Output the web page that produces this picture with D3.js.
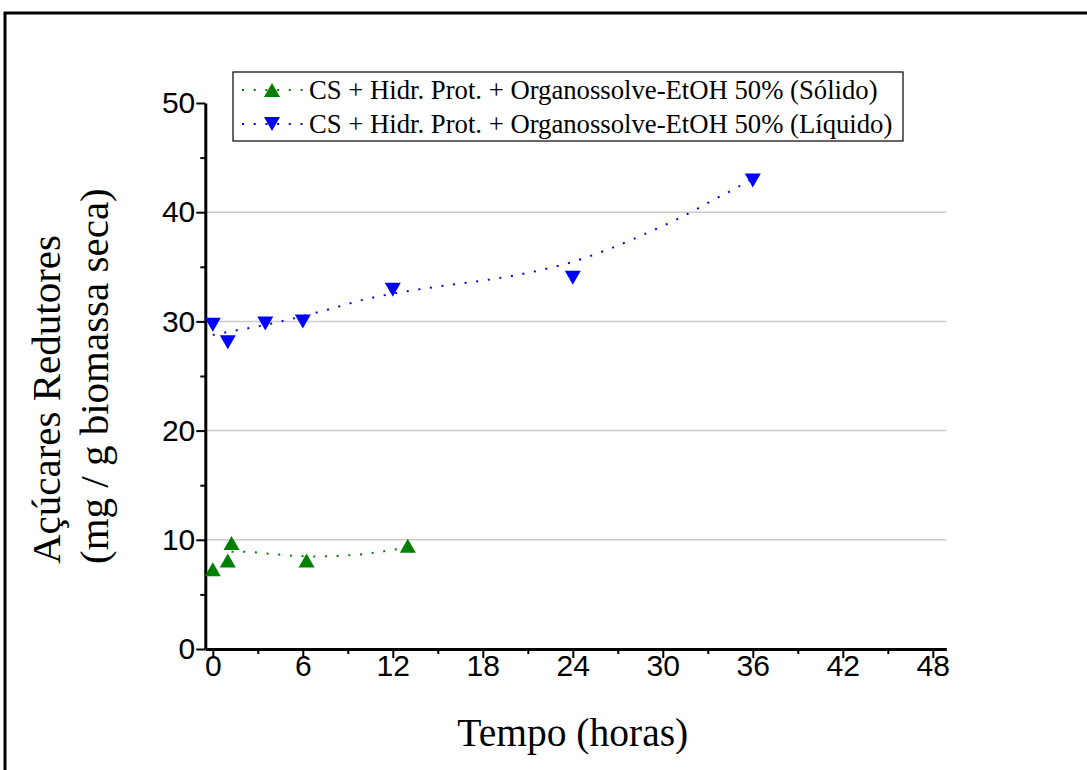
<!DOCTYPE html>
<html>
<head>
<meta charset="utf-8">
<script src="https://cdn.jsdelivr.net/npm/d3@7"></script>
<style>
  html, body { margin: 0; padding: 0; background: #fff; }
  svg { display: block; }
</style>
</head>
<body>
<svg id="chart" width="1087" height="770"></svg>
<script>
// Reducing sugars released over time — solid and liquid fractions
const solidHours = [0, 1, 1.25, 6.25, 13];
const solidValues = [7.3, 8.1, 9.7, 8.1, 9.45];
const liquidHours = [0, 1, 3.5, 6, 12, 24, 36];
const liquidValues = [29.7, 28.1, 29.8, 30.0, 32.9, 34.0, 42.9];

// Dotted trend curves (hours, value)
const solidFitHours = [1.25, 2.3, 3.8, 5.4, 6.9, 8.5, 10.0, 11.6, 12.4, 13];
const solidFitValues = [8.9, 8.9, 8.72, 8.54, 8.48, 8.54, 8.69, 8.99, 9.18, 9.35];
const liquidFitHours = [0, 0.8, 3.15, 5.5, 7.8, 10.15, 12.5, 15.55, 18.66, 21.77, 24.1, 26.4, 28.75, 31.1, 33.4, 35.0, 36];
const liquidFitValues = [28.75, 28.98, 29.58, 30.31, 31.13, 32.02, 32.66, 33.3, 33.88, 34.67, 35.5, 36.62, 37.97, 39.46, 41.14, 42.3, 43.1];

const xMajorTicks = [0, 6, 12, 18, 24, 30, 36, 42, 48];
const xMinorTicks = [3, 9, 15, 21, 27, 33, 39, 45];
const yMajorTicks = [0, 10, 20, 30, 40, 50];
const yMinorTicks = [5, 15, 25, 35, 45];
const gridValues = [10, 20, 30, 40];

const seriesNames = [
  "CS + Hidr. Prot. + Organossolve-EtOH 50% (Sólido)",
  "CS + Hidr. Prot. + Organossolve-EtOH 50% (Líquido)"
];
const seriesColors = ["#008000", "#0000ff"];
const xTitle = "Tempo (horas)";
const yTitleLines = ["Açúcares Redutores", "(mg / g biomassa seca)"];

const svg = d3.select("#chart");
const serif = "'Liberation Serif', 'Times New Roman', serif";
const sans = "'Liberation Sans', Arial, sans-serif";

// outer frame
svg.append("rect")
  .attr("x", 5).attr("y", 13)
  .attr("width", 1200).attr("height", 900)
  .attr("fill", "none").attr("stroke", "#000").attr("stroke-width", 3);

const x = d3.scaleLinear().domain([-0.5, 48.9]).range([205.3, 946.3]);
const y = d3.scaleLinear().domain([0, 50]).range([649, 103]);

// gridlines
svg.append("g").selectAll("line").data(gridValues).join("line")
  .attr("x1", x.range()[0]).attr("x2", x.range()[1])
  .attr("y1", d => y(d)).attr("y2", d => y(d))
  .attr("stroke", "#cccccc").attr("stroke-width", 1.5);

// x axis
const gx = svg.append("g").attr("transform", `translate(0,${y(0)})`);
gx.call(d3.axisBottom(x).tickValues(xMinorTicks).tickSize(5).tickFormat(""));
gx.call(g => g.selectAll(".domain").remove());
const gxMaj = svg.append("g").attr("transform", `translate(0,${y(0)})`);
gxMaj.call(d3.axisBottom(x).tickValues(xMajorTicks).tickSize(9).tickSizeOuter(0));
gxMaj.selectAll("text").attr("y", 6).attr("font-family", sans).attr("font-size", 30).attr("fill", "#000");
[gx, gxMaj].forEach(g => g.selectAll(".tick line").attr("stroke", "#000").attr("stroke-width", 2));
gxMaj.select(".domain").attr("stroke", "#000").attr("stroke-width", 3);

// y axis
const gy = svg.append("g").attr("transform", `translate(${x.range()[0]},0)`);
gy.call(d3.axisLeft(y).tickValues(yMinorTicks).tickSize(5).tickFormat(""));
gy.call(g => g.selectAll(".domain").remove());
const gyMaj = svg.append("g").attr("transform", `translate(${x.range()[0]},0)`);
gyMaj.call(d3.axisLeft(y).tickValues(yMajorTicks).tickSize(9).tickSizeOuter(0).tickPadding(1));
gyMaj.selectAll("text").attr("font-family", sans).attr("font-size", 30).attr("fill", "#000");
[gy, gyMaj].forEach(g => g.selectAll(".tick line").attr("stroke", "#000").attr("stroke-width", 2));
gyMaj.select(".domain").attr("stroke", "#000").attr("stroke-width", 3);

// axis titles
svg.append("text")
  .attr("x", (x(0) + x(48)) / 2).attr("y", 746)
  .attr("text-anchor", "middle")
  .attr("font-family", serif).attr("font-size", 39.5)
  .text(xTitle);

const yTitle = svg.append("text")
  .attr("transform", `translate(60,564) rotate(-90)`)
  .attr("text-anchor", "start")
  .attr("font-family", serif).attr("font-size", 41);
yTitle.selectAll("tspan").data(yTitleLines).join("tspan")
  .attr("x", 0).attr("dy", (d, i) => i === 0 ? 0 : 48)
  .text(d => d);

// dotted trend curves
const line = d3.line().x(d => x(d[0])).y(d => y(d[1])).curve(d3.curveMonotoneX);
const solidFit = solidFitHours.map((h, i) => [h, solidFitValues[i]]);
const liquidFit = liquidFitHours.map((h, i) => [h, liquidFitValues[i]]);
[[solidFit, seriesColors[0]], [liquidFit, seriesColors[1]]].forEach(([pts, c]) => {
  svg.append("path").attr("d", line(pts))
    .attr("fill", "none").attr("stroke", c)
    .attr("stroke-width", 2).attr("stroke-dasharray", "2 9.7");
});

// triangle markers
const triUp = "M0,-7L8,7L-8,7Z";
const triDown = "M0,7L8,-7L-8,-7Z";
svg.append("g").selectAll("path").data(solidHours.map((h, i) => [h, solidValues[i]])).join("path")
  .attr("d", triUp).attr("fill", seriesColors[0])
  .attr("transform", d => `translate(${x(d[0])},${y(d[1])})`);
svg.append("g").selectAll("path").data(liquidHours.map((h, i) => [h, liquidValues[i]])).join("path")
  .attr("d", triDown).attr("fill", seriesColors[1])
  .attr("transform", d => `translate(${x(d[0])},${y(d[1])})`);

// legend
const legend = svg.append("g");
legend.append("rect")
  .attr("x", 233).attr("y", 72).attr("width", 670).attr("height", 69)
  .attr("fill", "#fff").attr("stroke", "#000").attr("stroke-width", 1.2);
const rows = [{ name: seriesNames[0], color: seriesColors[0], sym: triUp, cy: 90 },
              { name: seriesNames[1], color: seriesColors[1], sym: triDown, cy: 124 }];
rows.forEach(r => {
  legend.append("line")
    .attr("x1", 242).attr("x2", 304).attr("y1", r.cy).attr("y2", r.cy)
    .attr("stroke", r.color).attr("stroke-width", 2).attr("stroke-dasharray", "2 9.7");
  legend.append("path").attr("d", r.sym).attr("fill", r.color)
    .attr("transform", `translate(272,${r.cy})`);
  legend.append("text")
    .attr("x", 309).attr("y", r.cy + 9)
    .attr("font-family", serif).attr("font-size", 26.7)
    .text(r.name);
});
</script>
</body>
</html>
